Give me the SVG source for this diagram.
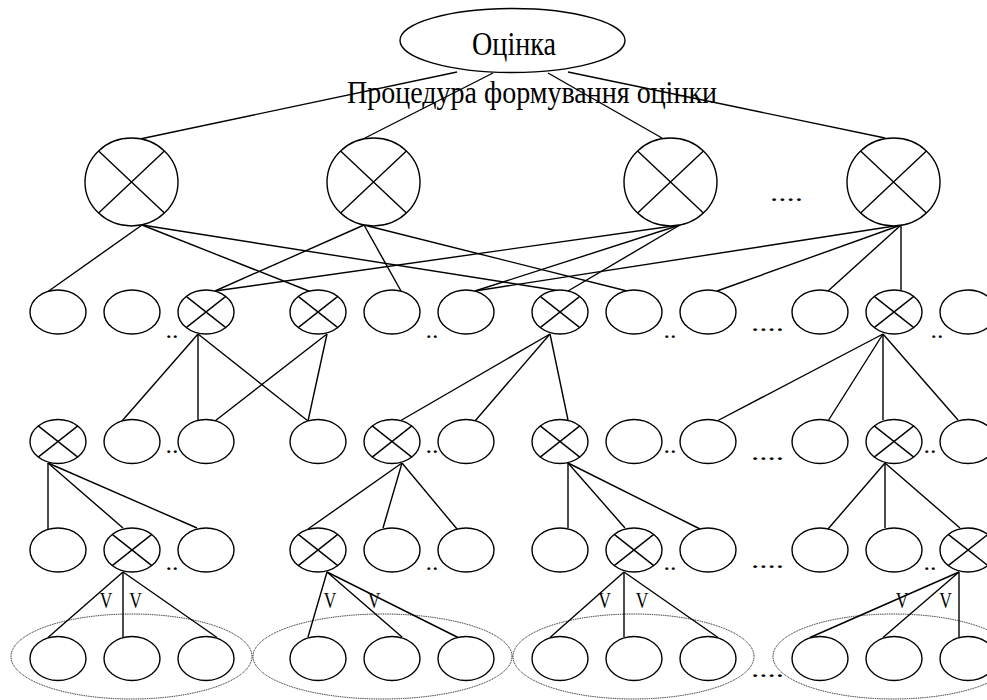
<svg xmlns="http://www.w3.org/2000/svg" width="987" height="700" viewBox="0 0 987 700">
<style>
.n{fill:#fff;stroke:#000;stroke-width:1.4}
.x{fill:none;stroke:#000;stroke-width:1.4}
.c line{stroke:#000;stroke-width:1.4}
.g{fill:none;stroke:#111;stroke-width:1;stroke-dasharray:1 0.8}
.t{font-family:"Liberation Serif","Times New Roman",serif;fill:#000}
</style>
<rect width="987" height="700" fill="#fff"/>
<g id="groups">
<ellipse class="g" cx="131.5" cy="656.5" rx="120.5" ry="42.5"/>
<ellipse class="g" cx="382.5" cy="656.5" rx="129.5" ry="42.5"/>
<ellipse class="g" cx="633.5" cy="656.5" rx="120.5" ry="42.5"/>
<ellipse class="g" cx="893.5" cy="656.5" rx="120.5" ry="42.5"/>
</g>
<g id="connectors" class="c">
<line x1="457" y1="72" x2="140" y2="139"/>
<line x1="493" y1="73" x2="363" y2="139"/>
<line x1="548" y1="73" x2="662" y2="138"/>
<line x1="568" y1="72" x2="885" y2="138"/>
<line x1="142" y1="225" x2="48" y2="291.5"/>
<line x1="142" y1="225" x2="310" y2="291.5"/>
<line x1="142" y1="225" x2="557" y2="290.5"/>
<line x1="364" y1="225" x2="215" y2="291"/>
<line x1="364" y1="225" x2="401" y2="291"/>
<line x1="364" y1="225" x2="627" y2="291"/>
<line x1="680" y1="225" x2="215" y2="291"/>
<line x1="680" y1="225" x2="475" y2="291"/>
<line x1="680" y1="225" x2="568" y2="291"/>
<line x1="901" y1="225" x2="475" y2="291"/>
<line x1="901" y1="225" x2="717" y2="291"/>
<line x1="901" y1="225" x2="828" y2="291"/>
<line x1="901" y1="225" x2="901" y2="290.5"/>
<line x1="198" y1="334" x2="122" y2="421"/>
<line x1="198" y1="334" x2="198" y2="420"/>
<line x1="198" y1="334" x2="308" y2="421"/>
<line x1="327" y1="334" x2="215" y2="421"/>
<line x1="327" y1="334" x2="308" y2="421"/>
<line x1="550" y1="334" x2="400" y2="421"/>
<line x1="550" y1="334" x2="475" y2="421"/>
<line x1="550" y1="334" x2="568" y2="420"/>
<line x1="883" y1="334" x2="717" y2="421"/>
<line x1="883" y1="334" x2="828" y2="421"/>
<line x1="883" y1="334" x2="883" y2="420"/>
<line x1="883" y1="334" x2="958" y2="420"/>
<line x1="48" y1="463" x2="48" y2="529"/>
<line x1="48" y1="463" x2="123" y2="528"/>
<line x1="48" y1="463" x2="197" y2="528"/>
<line x1="402" y1="463" x2="308" y2="529"/>
<line x1="402" y1="463" x2="383" y2="528"/>
<line x1="402" y1="463" x2="457" y2="529"/>
<line x1="568" y1="463" x2="568" y2="528"/>
<line x1="568" y1="463" x2="625" y2="528"/>
<line x1="568" y1="463" x2="700" y2="529"/>
<line x1="885" y1="463" x2="828" y2="529"/>
<line x1="885" y1="463" x2="885" y2="528"/>
<line x1="885" y1="463" x2="960" y2="528"/>
<line x1="123" y1="572" x2="48" y2="637.5"/>
<line x1="123" y1="572" x2="123" y2="637"/>
<line x1="123" y1="572" x2="217" y2="637.5"/>
<line x1="327" y1="572" x2="308" y2="637"/>
<line x1="327" y1="572" x2="402" y2="637"/>
<line x1="327" y1="572" x2="458" y2="637.5"/>
<line x1="624" y1="572" x2="550" y2="637.5"/>
<line x1="624" y1="572" x2="624" y2="637"/>
<line x1="624" y1="572" x2="718" y2="637.5"/>
<line x1="959" y1="572" x2="810" y2="637.5"/>
<line x1="959" y1="572" x2="883" y2="637.5"/>
<line x1="959" y1="572" x2="959" y2="637"/>
</g>
<g id="root"><ellipse class="n" fill-opacity="0" cx="512.5" cy="40.5" rx="112.5" ry="32"/><text class="t" x="472" y="55" font-size="34" textLength="84" lengthAdjust="spacingAndGlyphs">Оцінка</text></g>
<g id="caption"><text class="t" x="347" y="103" font-size="31" textLength="370" lengthAdjust="spacingAndGlyphs">Процедура формування оцінки</text></g>
<g id="l1-1"><ellipse class="n" cx="131.5" cy="182" rx="46.5" ry="44"/><path class="x" d="M98.6 150.9L164.4 213.1M164.4 150.9L98.6 213.1"/></g>
<g id="l1-2"><ellipse class="n" cx="373.5" cy="182" rx="46.5" ry="44"/><path class="x" d="M340.6 150.9L406.4 213.1M406.4 150.9L340.6 213.1"/></g>
<g id="l1-3"><ellipse class="n" cx="670.5" cy="182" rx="46.5" ry="44"/><path class="x" d="M637.6 150.9L703.4 213.1M703.4 150.9L637.6 213.1"/></g>
<g id="l1-4"><ellipse class="n" cx="893.5" cy="182" rx="46.5" ry="44"/><path class="x" d="M860.6 150.9L926.4 213.1M926.4 150.9L860.6 213.1"/></g>
<g id="l2-1"><ellipse class="n" cx="58" cy="312" rx="28" ry="22"/></g>
<g id="l2-2"><ellipse class="n" cx="132" cy="312" rx="28" ry="22"/></g>
<g id="l2-3"><ellipse class="n" cx="206" cy="312" rx="28" ry="22"/><path class="x" d="M186.2 296.4L225.8 327.6M225.8 296.4L186.2 327.6"/></g>
<g id="l2-4"><ellipse class="n" cx="318" cy="312" rx="28" ry="22"/><path class="x" d="M298.2 296.4L337.8 327.6M337.8 296.4L298.2 327.6"/></g>
<g id="l2-5"><ellipse class="n" cx="392" cy="312" rx="28" ry="22"/></g>
<g id="l2-6"><ellipse class="n" cx="466" cy="312" rx="28" ry="22"/></g>
<g id="l2-7"><ellipse class="n" cx="560" cy="312" rx="28" ry="22"/><path class="x" d="M540.2 296.4L579.8 327.6M579.8 296.4L540.2 327.6"/></g>
<g id="l2-8"><ellipse class="n" cx="634" cy="312" rx="28" ry="22"/></g>
<g id="l2-9"><ellipse class="n" cx="708" cy="312" rx="28" ry="22"/></g>
<g id="l2-10"><ellipse class="n" cx="820" cy="312" rx="28" ry="22"/></g>
<g id="l2-11"><ellipse class="n" cx="894" cy="312" rx="28" ry="22"/><path class="x" d="M874.2 296.4L913.8 327.6M913.8 296.4L874.2 327.6"/></g>
<g id="l2-12"><ellipse class="n" cx="968" cy="312" rx="28" ry="22"/></g>
<g id="l3-1"><ellipse class="n" cx="58" cy="441.5" rx="28" ry="22"/><path class="x" d="M38.2 425.9L77.8 457.1M77.8 425.9L38.2 457.1"/></g>
<g id="l3-2"><ellipse class="n" cx="132" cy="441.5" rx="28" ry="22"/></g>
<g id="l3-3"><ellipse class="n" cx="206" cy="441.5" rx="28" ry="22"/></g>
<g id="l3-4"><ellipse class="n" cx="318" cy="441.5" rx="28" ry="22"/></g>
<g id="l3-5"><ellipse class="n" cx="392" cy="441.5" rx="28" ry="22"/><path class="x" d="M372.2 425.9L411.8 457.1M411.8 425.9L372.2 457.1"/></g>
<g id="l3-6"><ellipse class="n" cx="466" cy="441.5" rx="28" ry="22"/></g>
<g id="l3-7"><ellipse class="n" cx="560" cy="441.5" rx="28" ry="22"/><path class="x" d="M540.2 425.9L579.8 457.1M579.8 425.9L540.2 457.1"/></g>
<g id="l3-8"><ellipse class="n" cx="634" cy="441.5" rx="28" ry="22"/></g>
<g id="l3-9"><ellipse class="n" cx="708" cy="441.5" rx="28" ry="22"/></g>
<g id="l3-10"><ellipse class="n" cx="820" cy="441.5" rx="28" ry="22"/></g>
<g id="l3-11"><ellipse class="n" cx="894" cy="441.5" rx="28" ry="22"/><path class="x" d="M874.2 425.9L913.8 457.1M913.8 425.9L874.2 457.1"/></g>
<g id="l3-12"><ellipse class="n" cx="968" cy="441.5" rx="28" ry="22"/></g>
<g id="l4-1"><ellipse class="n" cx="58" cy="550" rx="28" ry="22"/></g>
<g id="l4-2"><ellipse class="n" cx="132" cy="550" rx="28" ry="22"/><path class="x" d="M112.2 534.4L151.8 565.6M151.8 534.4L112.2 565.6"/></g>
<g id="l4-3"><ellipse class="n" cx="206" cy="550" rx="28" ry="22"/></g>
<g id="l4-4"><ellipse class="n" cx="318" cy="550" rx="28" ry="22"/><path class="x" d="M298.2 534.4L337.8 565.6M337.8 534.4L298.2 565.6"/></g>
<g id="l4-5"><ellipse class="n" cx="392" cy="550" rx="28" ry="22"/></g>
<g id="l4-6"><ellipse class="n" cx="466" cy="550" rx="28" ry="22"/></g>
<g id="l4-7"><ellipse class="n" cx="560" cy="550" rx="28" ry="22"/></g>
<g id="l4-8"><ellipse class="n" cx="634" cy="550" rx="28" ry="22"/><path class="x" d="M614.2 534.4L653.8 565.6M653.8 534.4L614.2 565.6"/></g>
<g id="l4-9"><ellipse class="n" cx="708" cy="550" rx="28" ry="22"/></g>
<g id="l4-10"><ellipse class="n" cx="820" cy="550" rx="28" ry="22"/></g>
<g id="l4-11"><ellipse class="n" cx="894" cy="550" rx="28" ry="22"/></g>
<g id="l4-12"><ellipse class="n" cx="968" cy="550" rx="28" ry="22"/><path class="x" d="M948.2 534.4L987.8 565.6M987.8 534.4L948.2 565.6"/></g>
<g id="l5-1"><ellipse class="n" cx="58" cy="658.5" rx="28" ry="22"/></g>
<g id="l5-2"><ellipse class="n" cx="132" cy="658.5" rx="28" ry="22"/></g>
<g id="l5-3"><ellipse class="n" cx="206" cy="658.5" rx="28" ry="22"/></g>
<g id="l5-4"><ellipse class="n" cx="318" cy="658.5" rx="28" ry="22"/></g>
<g id="l5-5"><ellipse class="n" cx="392" cy="658.5" rx="28" ry="22"/></g>
<g id="l5-6"><ellipse class="n" cx="466" cy="658.5" rx="28" ry="22"/></g>
<g id="l5-7"><ellipse class="n" cx="560" cy="658.5" rx="28" ry="22"/></g>
<g id="l5-8"><ellipse class="n" cx="634" cy="658.5" rx="28" ry="22"/></g>
<g id="l5-9"><ellipse class="n" cx="708" cy="658.5" rx="28" ry="22"/></g>
<g id="l5-10"><ellipse class="n" cx="820" cy="658.5" rx="28" ry="22"/></g>
<g id="l5-11"><ellipse class="n" cx="894" cy="658.5" rx="28" ry="22"/></g>
<g id="l5-12"><ellipse class="n" cx="968" cy="658.5" rx="28" ry="22"/></g>
<g id="labels" class="t" font-size="23">
<text x="99.7" y="608" textLength="12.6" lengthAdjust="spacingAndGlyphs">V</text>
<text x="129.2" y="608" textLength="12.6" lengthAdjust="spacingAndGlyphs">V</text>
<text x="323.7" y="608" textLength="12.6" lengthAdjust="spacingAndGlyphs">V</text>
<text x="367.7" y="608" textLength="12.6" lengthAdjust="spacingAndGlyphs">V</text>
<text x="598.2" y="608" textLength="12.6" lengthAdjust="spacingAndGlyphs">V</text>
<text x="635.7" y="608" textLength="12.6" lengthAdjust="spacingAndGlyphs">V</text>
<text x="895.7" y="608" textLength="12.6" lengthAdjust="spacingAndGlyphs">V</text>
<text x="939.2" y="608" textLength="12.6" lengthAdjust="spacingAndGlyphs">V</text>
</g>
<g id="dots" class="t" font-size="24">
<text x="770" y="200.5" textLength="33" lengthAdjust="spacingAndGlyphs">....</text>
<text x="165.5" y="337.5" textLength="13" lengthAdjust="spacingAndGlyphs">..</text>
<text x="425.5" y="337.5" textLength="13" lengthAdjust="spacingAndGlyphs">..</text>
<text x="663.5" y="337.5" textLength="13" lengthAdjust="spacingAndGlyphs">..</text>
<text x="751" y="330.5" textLength="33" lengthAdjust="spacingAndGlyphs">....</text>
<text x="930.5" y="337.5" textLength="13" lengthAdjust="spacingAndGlyphs">..</text>
<text x="165.5" y="452.5" textLength="13" lengthAdjust="spacingAndGlyphs">..</text>
<text x="425.5" y="452.5" textLength="13" lengthAdjust="spacingAndGlyphs">..</text>
<text x="663.5" y="452.5" textLength="13" lengthAdjust="spacingAndGlyphs">..</text>
<text x="751" y="460" textLength="33" lengthAdjust="spacingAndGlyphs">....</text>
<text x="923.5" y="452.5" textLength="13" lengthAdjust="spacingAndGlyphs">..</text>
<text x="165.5" y="569.5" textLength="13" lengthAdjust="spacingAndGlyphs">..</text>
<text x="425.5" y="569.5" textLength="13" lengthAdjust="spacingAndGlyphs">..</text>
<text x="663.5" y="569.5" textLength="13" lengthAdjust="spacingAndGlyphs">..</text>
<text x="751" y="567.5" textLength="33" lengthAdjust="spacingAndGlyphs">....</text>
<text x="923.5" y="569.5" textLength="13" lengthAdjust="spacingAndGlyphs">..</text>
<text x="751" y="676.5" textLength="33" lengthAdjust="spacingAndGlyphs">....</text>
</g>
</svg>
